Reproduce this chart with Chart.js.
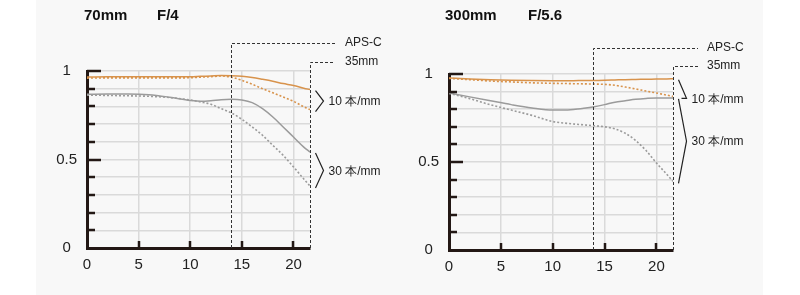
<!DOCTYPE html>
<html>
<head>
<meta charset="utf-8">
<script src="https://cdn.jsdelivr.net/npm/chart.js@4.4.1/dist/chart.umd.min.js"></script>
<style>
  body { margin: 0; background: #fff; }
  #wrap { position: relative; width: 800px; height: 295px; }
  #bg { position: absolute; left: 36px; top: 0; width: 727px; height: 295px; background: #f8f8f8; }
  .pane { position: absolute; top: 0; width: 400px; height: 295px; }
  .ttl { position: absolute; top: 6px; font: bold 15px "Liberation Sans", Arial, sans-serif; color: #111; }
</style>
</head>
<body>
<div id="wrap">
  <div id="bg"></div>
  <div class="pane" style="left:0"><canvas id="c70" width="400" height="295"></canvas></div>
  <div class="pane" style="left:400px"><canvas id="c300" width="400" height="295"></canvas></div>
  <span class="ttl" style="left:84px">70mm</span>
  <span class="ttl" style="left:157px">F/4</span>
  <span class="ttl" style="left:445px">300mm</span>
  <span class="ttl" style="left:528px">F/5.6</span>
</div>
<script>
// image height (mm from centre)
var radius = [0, 2, 4, 6, 8, 10, 11, 12, 13, 14, 15, 16, 17, 18, 19, 20, 21, 21.6];
var apscEdge = 13.9;
var fullEdge = 21.6;

var yTickValues = [0, 0.5, 1];
var yTickLabels = ["0", "0.5", "1"];

// 70mm F/4
var w70_s10 = [0.966, 0.967, 0.967, 0.967, 0.967, 0.968, 0.970, 0.972, 0.974, 0.973, 0.970, 0.963, 0.953, 0.942, 0.929, 0.918, 0.903, 0.895];
var w70_m10 = [0.960, 0.961, 0.961, 0.961, 0.961, 0.962, 0.965, 0.968, 0.972, 0.965, 0.947, 0.925, 0.900, 0.877, 0.853, 0.829, 0.798, 0.782];
var w70_s30 = [0.868, 0.870, 0.870, 0.866, 0.852, 0.834, 0.829, 0.832, 0.838, 0.840, 0.836, 0.821, 0.787, 0.740, 0.684, 0.627, 0.570, 0.542];
var w70_m30 = [0.864, 0.862, 0.860, 0.857, 0.850, 0.836, 0.825, 0.812, 0.787, 0.763, 0.727, 0.684, 0.637, 0.580, 0.524, 0.458, 0.390, 0.350];

// 300mm F/5.6
var t300_s10 = [0.977, 0.972, 0.968, 0.965, 0.963, 0.962, 0.962, 0.962, 0.963, 0.963, 0.964, 0.966, 0.968, 0.969, 0.970, 0.971, 0.972, 0.973];
var t300_m10 = [0.975, 0.968, 0.960, 0.955, 0.950, 0.947, 0.946, 0.945, 0.944, 0.943, 0.941, 0.936, 0.926, 0.915, 0.903, 0.892, 0.880, 0.873];
var t300_s30 = [0.892, 0.870, 0.848, 0.826, 0.807, 0.795, 0.795, 0.798, 0.805, 0.814, 0.826, 0.840, 0.848, 0.856, 0.861, 0.864, 0.864, 0.864];
var t300_m30 = [0.890, 0.860, 0.825, 0.795, 0.765, 0.730, 0.722, 0.716, 0.711, 0.706, 0.700, 0.688, 0.663, 0.622, 0.565, 0.495, 0.430, 0.390];

var ORANGE = "#d8934c";
var GRAY = "#9b9b9b";
var INK = "#231815";
var FONT = '"Liberation Sans", Arial, sans-serif';

function pts(vals) {
  return vals.map(function(v, i){ return {x: radius[i], y: v}; });
}

function line(vals, color, dotted) {
  return {
    data: pts(vals),
    borderColor: color,
    borderWidth: dotted ? 1.6 : 1.5,
    borderDash: dotted ? [2, 2] : [],
    pointRadius: 0,
    fill: false,
    cubicInterpolationMode: "monotone"
  };
}

// inner tick marks, guide lines, brackets and labels
var mtfDecor = {
  id: "mtfDecor",
  afterDraw: function(chart) {
    var o = chart.options.plugins.mtfDecor;
    var xs = chart.scales.x, ys = chart.scales.y;
    var ctx = chart.ctx;
    var left = chart.chartArea.left, bottom = chart.chartArea.bottom;
    ctx.save();

    // ticks pointing into the plot
    ctx.strokeStyle = INK;
    ctx.lineWidth = 2.5;
    ys.ticks.forEach(function(t){
      if (t.value <= 0) return;
      var y = Math.round(ys.getPixelForValue(t.value));
      var major = Math.abs(t.value * 2 - Math.round(t.value * 2)) < 1e-6;
      ctx.beginPath();
      ctx.moveTo(left, y);
      ctx.lineTo(left + (major ? 14 : 8), y);
      ctx.stroke();
    });
    xs.ticks.forEach(function(t){
      if (t.value <= 0) return;
      var x = Math.round(xs.getPixelForValue(t.value));
      ctx.beginPath();
      ctx.moveTo(x, bottom);
      ctx.lineTo(x, bottom - 7);
      ctx.stroke();
    });

    // APS-C / 35mm guides
    var ax = Math.round(xs.getPixelForValue(apscEdge)) + 0.5;
    var fx = Math.round(xs.getPixelForValue(fullEdge)) + 0.5;
    ctx.lineWidth = 1;
    ctx.setLineDash([3, 2]);
    ctx.strokeStyle = "#333";
    ctx.beginPath();
    ctx.moveTo(ax, bottom);
    ctx.lineTo(ax, o.apsY + 0.5);
    ctx.lineTo(o.guideEnd, o.apsY + 0.5);
    ctx.moveTo(fx, bottom);
    ctx.lineTo(fx, o.ffY + 0.5);
    ctx.lineTo(o.guideEnd, o.ffY + 0.5);
    ctx.stroke();
    ctx.setLineDash([]);

    ctx.fillStyle = "#222";
    ctx.font = "12px " + FONT;
    ctx.textBaseline = "middle";
    ctx.fillText("APS-C", o.labelX, o.apsY);
    ctx.fillText("35mm", o.labelX, o.ffY);

    // brackets grouping the curve ends
    var n = radius.length - 1;
    var ds = chart.data.datasets;
    function bracket(a, b, text, atBottom) {
      var y1 = ys.getPixelForValue(Math.max(ds[a].data[n].y, ds[b].data[n].y)) + 1;
      var y2 = ys.getPixelForValue(Math.min(ds[a].data[n].y, ds[b].data[n].y)) + 2;
      var tip = fx + 5, apex = fx + 13;
      var my = atBottom ? y2 : (y1 + y2) / 2;
      ctx.strokeStyle = "#222";
      ctx.lineWidth = 1.2;
      ctx.beginPath();
      ctx.moveTo(tip, y1);
      ctx.lineTo(apex, my);
      ctx.lineTo(atBottom ? tip + 3 : tip, y2);
      ctx.stroke();
      ctx.fillText(text, apex + 5, my + 1);
    }
    bracket(0, 1, "10 本/mm", o.tenAtBottom);
    bracket(2, 3, "30 本/mm", false);
    ctx.restore();
  }
};

function makeChart(id, s10, m10, s30, m30, lay) {
  return new Chart(document.getElementById(id), {
    type: "line",
    data: {
      datasets: [
        line(s10, ORANGE, false),
        line(m10, ORANGE, true),
        line(s30, GRAY, false),
        line(m30, GRAY, true)
      ]
    },
    options: {
      responsive: false,
      animation: false,
      devicePixelRatio: 1,
      layout: { padding: { left: 0, right: lay.padRight, top: lay.padTop, bottom: 0 } },
      plugins: {
        legend: { display: false },
        tooltip: { enabled: false },
        mtfDecor: lay
      },
      scales: {
        x: {
          type: "linear",
          min: 0,
          max: fullEdge,
          afterFit: function(s){ s.height = lay.xHeight; },
          ticks: { stepSize: 5, includeBounds: false, padding: 8, color: "#222", font: { family: FONT, size: 15 } },
          grid: { color: "#dadada", lineWidth: 1.5, drawTicks: false },
          border: { color: INK, width: 3 }
        },
        y: {
          min: 0,
          max: 1,
          afterFit: function(s){ s.width = lay.yWidth; },
          ticks: {
            stepSize: 0.1,
            autoSkip: false,
            padding: 10,
            crossAlign: "center",
            color: "#222",
            font: { family: FONT, size: 15 },
            callback: function(v){
              for (var i = 0; i < yTickValues.length; i++) {
                if (Math.abs(yTickValues[i] - v) < 1e-6) return yTickLabels[i];
              }
              return "";
            }
          },
          grid: { color: "#dadada", lineWidth: 1.5, drawTicks: false },
          border: { color: INK, width: 3 }
        }
      }
    },
    plugins: [mtfDecor]
  });
}

makeChart("c70", w70_s10, w70_m10, w70_s30, w70_m30,
  { padRight: 90, padTop: 71, xHeight: 47, yWidth: 87, apsY: 43, ffY: 62, guideEnd: 335, labelX: 345, tenAtBottom: false });
makeChart("c300", t300_s10, t300_m10, t300_s30, t300_m30,
  { padRight: 127, padTop: 74, xHeight: 45, yWidth: 49, apsY: 48, ffY: 66, guideEnd: 298, labelX: 307, tenAtBottom: true });
</script>
</body>
</html>
